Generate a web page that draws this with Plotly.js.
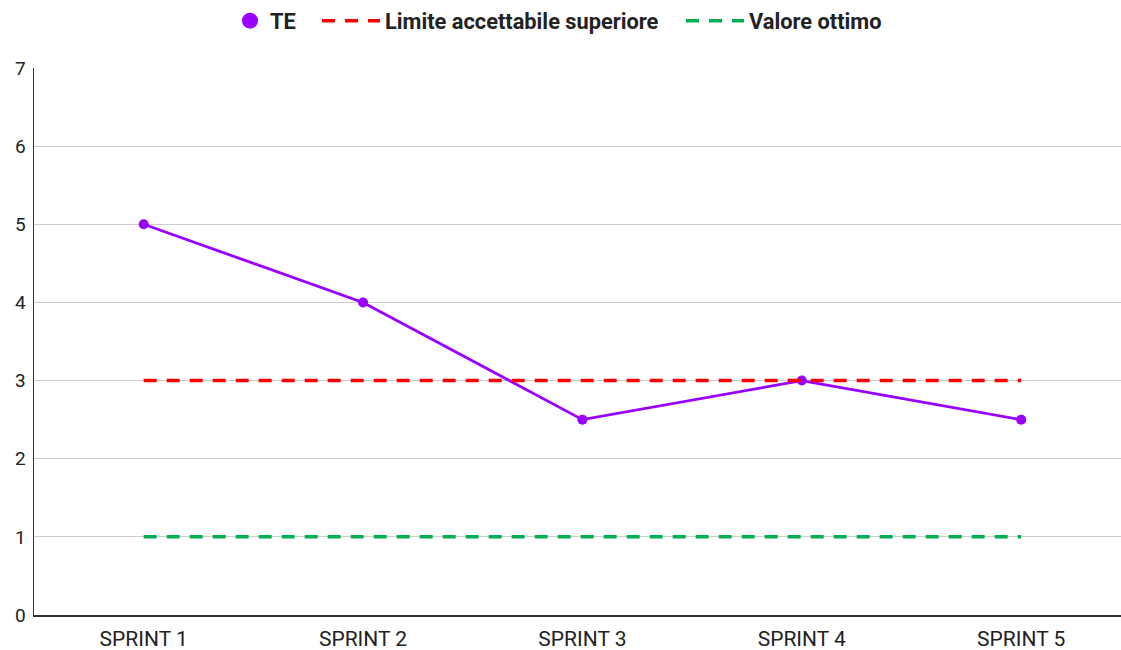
<!DOCTYPE html>
<html><head><meta charset="utf-8">
<script src="https://cdn.plot.ly/plotly-3.0.1.min.js"></script>
<style>html,body{margin:0;padding:0;background:#fff}#chart{width:1121px;height:650px}</style>
</head><body><div id="chart"></div>
<script>
const categories = ["SPRINT 1","SPRINT 2","SPRINT 3","SPRINT 4","SPRINT 5"];
const teValues = [5, 4, 2.5, 3, 2.5];
const upperLimit = [3, 3, 3, 3, 3];
const optimalValue = [1, 1, 1, 1, 1];
const yTicks = [0,1,2,3,4,5,6,7];

const W = 1121;
const purple = "#9900ff";
const traces = [
  {x: categories, y: teValues, type: "scatter", mode: "lines+markers", name: "TE", showlegend: false,
   line: {color: purple, width: 2.8}, marker: {color: purple, size: 10}},
  {x: [null], y: [null], type: "scatter", mode: "markers", name: "TE", legend: "legend",
   marker: {color: purple, size: 18}},
  {x: categories, y: upperLimit, type: "scatter", mode: "lines", name: "Limite accettabile superiore",
   legend: "legend2", line: {color: "#ff0000", width: 3.5, dash: "13px,10px"}},
  {x: categories, y: optimalValue, type: "scatter", mode: "lines", name: "Valore ottimo",
   legend: "legend3", line: {color: "#00b050", width: 3.5, dash: "13px,10px"}}
];
const legendFont = {family: "Roboto, sans-serif", size: 21.8, color: "#222", weight: "bold"};
const legBase = {orientation: "h", xanchor: "left", xref: "container", y: 1, yanchor: "top", yref: "container",
                 font: legendFont, bgcolor: "rgba(0,0,0,0)"};
const layout = {
  width: W, height: 650,
  margin: {l: 34, r: 0, t: 68, b: 35},
  paper_bgcolor: "#fff", plot_bgcolor: "#fff",
  font: {family: "Roboto, sans-serif", size: 19, color: "#222"},
  showlegend: true,
  legend: Object.assign({}, legBase, {x: 230 / W, itemwidth: 30}),
  legend2: Object.assign({}, legBase, {x: 317 / W, itemwidth: 58}),
  legend3: Object.assign({}, legBase, {x: 681 / W, itemwidth: 58}),
  xaxis: {type: "category", range: [-0.5, 4.455], showgrid: false, showline: true, linecolor: "#333", linewidth: 1.5,
          ticks: "", tickfont: {size: 21}, ticklabelstandoff: 4, zeroline: false, fixedrange: true},
  yaxis: {range: [0, 7], tickvals: yTicks, showgrid: true, gridcolor: "#cccccc", gridwidth: 1,
          showline: true, linecolor: "#333", linewidth: 1.5, ticks: "", ticklen: 0, zeroline: false,
          tickfont: {size: 19}, ticklabelstandoff: 3, fixedrange: true}
};
Plotly.newPlot("chart", traces, layout, {displayModeBar: false, staticPlot: true});
</script></body></html>
